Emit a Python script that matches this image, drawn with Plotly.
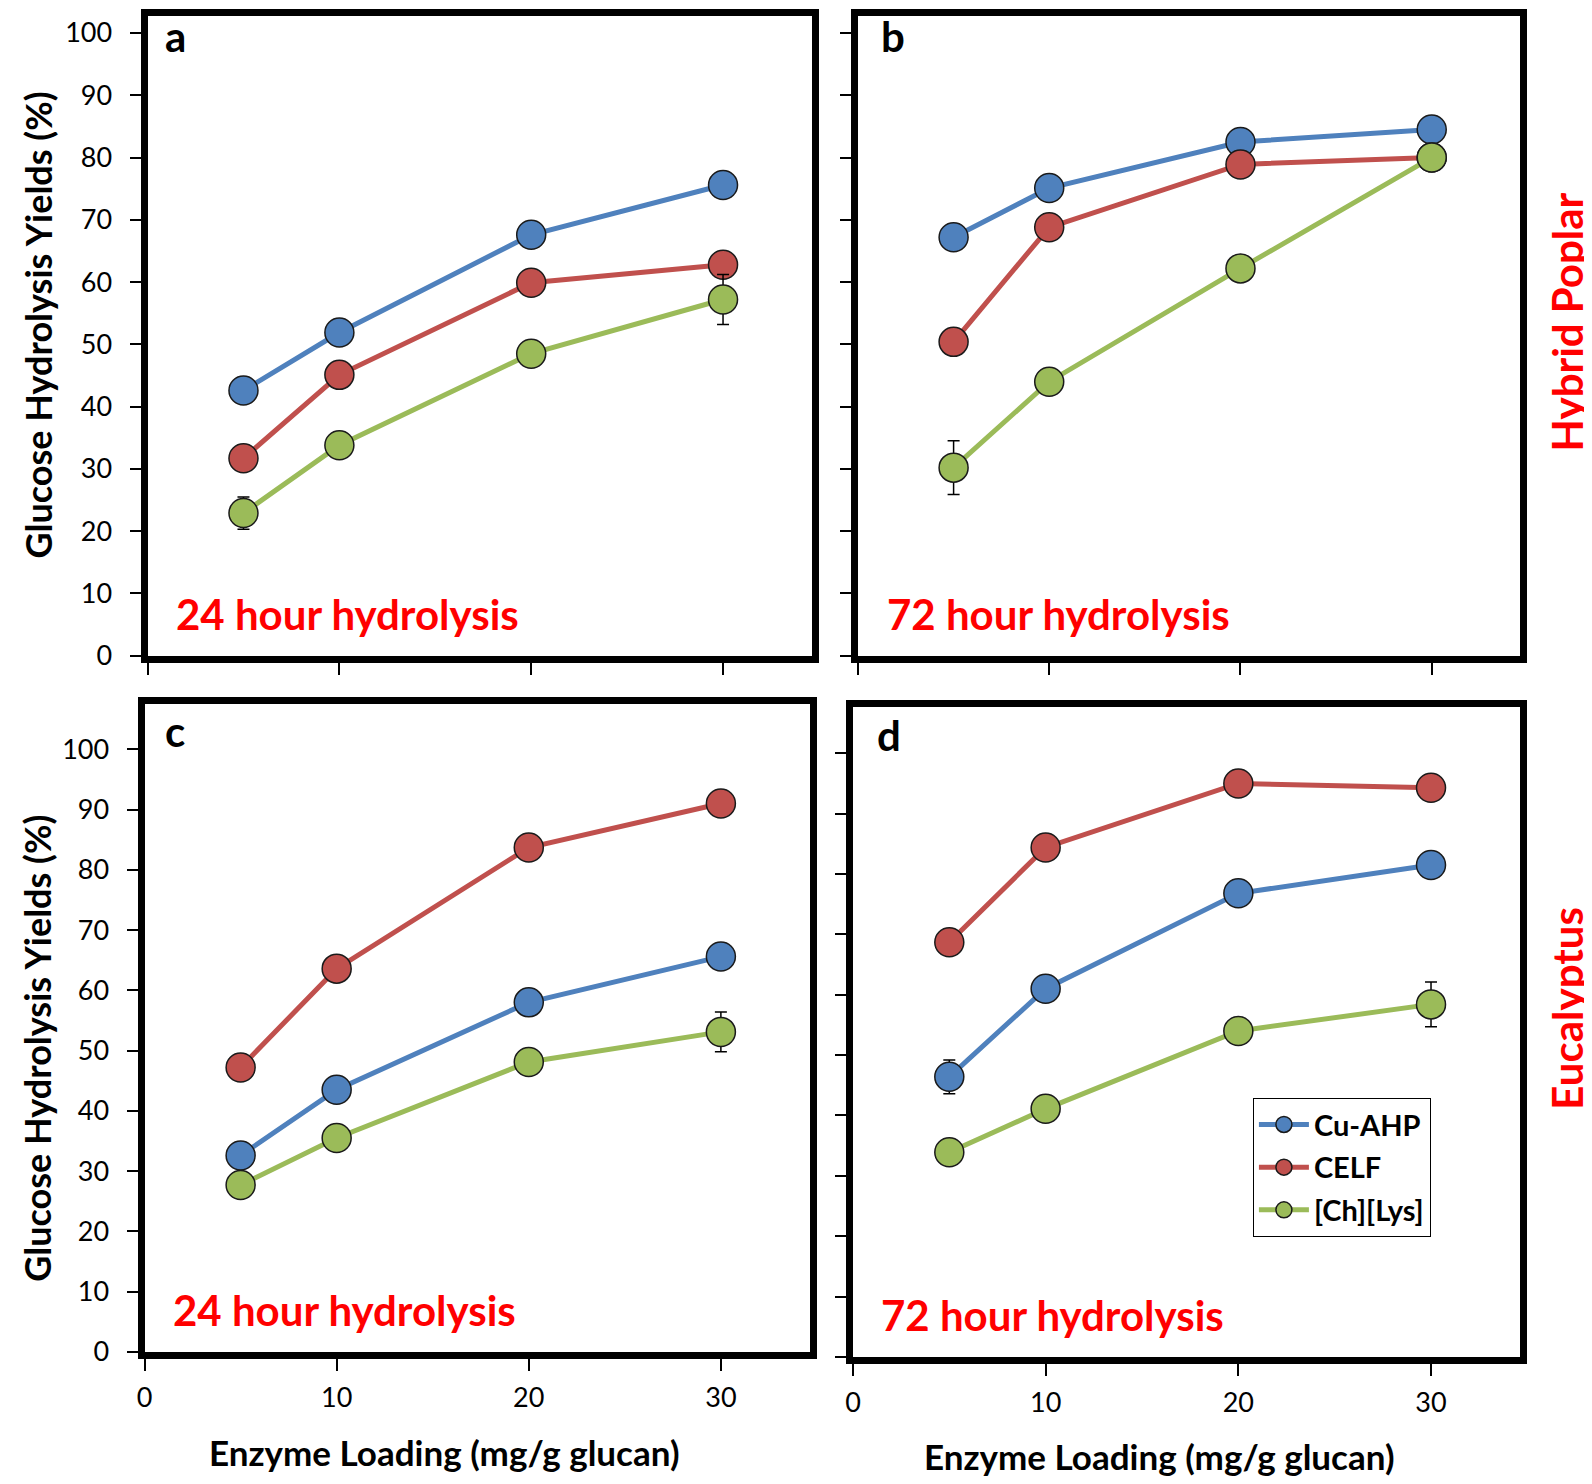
import plotly.graph_objects as go

W, H = 1592, 1484
# measured mapping from figure pixels to the photographed page: page = O + S * fig
SX, OX = 0.9944, 16
SY, OY = 0.9875, 10

loading = [5, 10, 20, 30]
series_names = ["Cu-AHP", "CELF", "[Ch][Lys]"]
series_colors = ["#4F81BD", "#C0504D", "#9BBB59"]

# a: hybrid poplar, 24 h
poplar_24h_cu = [42.6, 51.9, 67.6, 75.6]
poplar_24h_celf = [31.7, 45.1, 59.9, 62.8]
poplar_24h_chlys = [22.9, 33.8, 48.5, 57.2]
poplar_24h_chlys_err = [2.6, 0, 0, 4.0]

# b: hybrid poplar, 72 h
poplar_72h_cu = [67.2, 75.1, 82.5, 84.5]
poplar_72h_celf = [50.4, 68.8, 78.9, 80.0]
poplar_72h_chlys = [30.2, 44.0, 62.2, 80.0]
poplar_72h_chlys_err = [4.3, 0, 0, 0]

# c: eucalyptus, 24 h
euc_24h_cu = [32.6, 43.5, 58.0, 65.6]
euc_24h_celf = [47.2, 63.6, 83.7, 91.0]
euc_24h_chlys = [27.7, 35.5, 48.1, 53.1]
euc_24h_chlys_err = [0, 0, 0, 3.3]

# d: eucalyptus, 72 h
euc_72h_cu = [46.4, 61.0, 76.8, 81.5]
euc_72h_cu_err = [2.8, 0, 0, 0]
euc_72h_celf = [68.7, 84.4, 95.0, 94.3]
euc_72h_chlys = [33.9, 41.1, 54.0, 58.4]
euc_72h_chlys_err = [0, 0, 0, 3.7]

y_ticks = [0, 10, 20, 30, 40, 50, 60, 70, 80, 90, 100]
x_ticks = [0, 10, 20, 30]

no_err = [0, 0, 0, 0]
panels = [
    dict(letter="a", label="24 hour hydrolysis",
         ys=[poplar_24h_cu, poplar_24h_celf, poplar_24h_chlys],
         errs=[no_err, no_err, poplar_24h_chlys_err]),
    dict(letter="b", label="72 hour hydrolysis",
         ys=[poplar_72h_cu, poplar_72h_celf, poplar_72h_chlys],
         errs=[no_err, no_err, poplar_72h_chlys_err]),
    dict(letter="c", label="24 hour hydrolysis",
         ys=[euc_24h_cu, euc_24h_celf, euc_24h_chlys],
         errs=[no_err, no_err, euc_24h_chlys_err]),
    dict(letter="d", label="72 hour hydrolysis",
         ys=[euc_72h_cu, euc_72h_celf, euc_72h_chlys],
         errs=[euc_72h_cu_err, no_err, euc_72h_chlys_err]),
]

# frame line centres on the page (left, right, top, bottom) and the pixel row of y=100
frames = [(144, 815, 14, 659), (854, 1523, 14, 659),
          (141, 813, 700, 1354), (849, 1523, 703, 1359)]
y100_rows = [34, 34, 749, 753]
letter_pos = [(175, 37), (892, 37), (175, 731), (888, 735)]
FRAME_W = 7
HALF = FRAME_W / 2


def gx(p):
    return (p - OX) / SX


def gy(p):
    return (p - OY) / SY


def fx(p):
    return gx(p) / W


def fy(p):
    return 1 - gy(p) / H


FONT = "Lato"
fig = go.Figure()
layout = dict(
    width=W, height=H, margin=dict(l=0, r=0, t=0, b=0),
    plot_bgcolor="white", paper_bgcolor="white",
    font=dict(family=FONT, color="black"),
)
annotations = []

for i, panel in enumerate(panels):
    n = "" if i == 0 else str(i + 1)
    left, right, top, bottom = frames[i]
    # plot area (figure px) sits inside the thick frame line
    pl, pr = gx(left) + HALF, gx(right) - HALF
    pt, pb = gy(top) + HALF, gy(bottom) - HALF
    px_x = (gx(right) - gx(left)) / 35
    px_y = (pb - gy(y100_rows[i])) / 100
    for j in range(3):
        err = panel["errs"][j]
        fig.add_trace(go.Scatter(
            x=loading, y=panel["ys"][j], name=series_names[j],
            xaxis="x" + n, yaxis="y" + n,
            mode="lines+markers",
            line=dict(color=series_colors[j], width=5),
            marker=dict(size=29, color=series_colors[j],
                        line=dict(color="#1a1a1a", width=1.5)),
            error_y=dict(type="data", array=err, visible=any(err),
                         color="black", thickness=1.5, width=6),
            legendgroup=series_names[j],
            showlegend=(i == 0),
        ))
    bottom_row = i >= 2
    left_col = i % 2 == 0
    layout["xaxis" + n] = dict(
        domain=[pl / W, pr / W], anchor="y" + n,
        range=[0, (pr - pl) / px_x],
        tickvals=x_ticks, showticklabels=bottom_row,
        ticks="outside", ticklen=12, tickwidth=1.5, tickcolor="black",
        ticklabelstandoff=4,
        showline=True, linewidth=FRAME_W, linecolor="black", mirror=True,
        showgrid=False, zeroline=False,
        tickfont=dict(size=27, color="black"),
    )
    layout["yaxis" + n] = dict(
        domain=[1 - pb / H, 1 - pt / H], anchor="x" + n,
        range=[0, (pb - pt) / px_y],
        tickvals=y_ticks, showticklabels=left_col,
        ticks="outside", ticklen=11, tickwidth=1.5, tickcolor="black",
        ticklabelstandoff=12,
        showline=True, linewidth=FRAME_W, linecolor="black", mirror=True,
        showgrid=False, zeroline=False,
        tickfont=dict(size=27, color="black"),
    )
    lx, ly = letter_pos[i]
    annotations.append(dict(
        text="<b>%s</b>" % panel["letter"], xref="paper", yref="paper",
        x=fx(lx), y=fy(ly), xanchor="center", yanchor="middle",
        showarrow=False, font=dict(size=42, color="black"),
    ))
    annotations.append(dict(
        text="<b>%s</b>" % panel["label"], xref="paper", yref="paper",
        x=fx(left + 30), y=fy(bottom - 45), xanchor="left", yanchor="middle",
        showarrow=False, font=dict(size=42, color="#FF0000"),
    ))

# axis titles
for cx, cy in [(38, 326), (37, 1048)]:
    annotations.append(dict(
        text="<b>Glucose Hydrolysis Yields (%)</b>", xref="paper", yref="paper",
        x=fx(cx), y=fy(cy), xanchor="center", yanchor="middle", textangle=-90,
        showarrow=False, font=dict(size=36, color="black"),
    ))
for cx, cy in [(444, 1450), (1159, 1454)]:
    annotations.append(dict(
        text="<b>Enzyme Loading (mg/g glucan)</b>", xref="paper", yref="paper",
        x=fx(cx), y=fy(cy), xanchor="center", yanchor="middle",
        showarrow=False, font=dict(size=35, color="black"),
    ))
# row labels
for txt, cy in [("Hybrid Poplar", 322), ("Eucalyptus", 1007)]:
    annotations.append(dict(
        text="<b>%s</b>" % txt, xref="paper", yref="paper",
        x=fx(1566), y=fy(cy), xanchor="center", yanchor="middle", textangle=-90,
        showarrow=False, font=dict(size=42, color="#FF0000"),
    ))

layout["annotations"] = annotations
layout["legend"] = dict(
    x=fx(1252), y=fy(1097), xanchor="left", yanchor="top",
    bgcolor="white", bordercolor="black", borderwidth=1.2,
    font=dict(size=29, color="black", family=FONT, weight="bold"),
    tracegroupgap=2, itemwidth=50,
)
fig.update_layout(**layout)

fig.write_html("out.html")
